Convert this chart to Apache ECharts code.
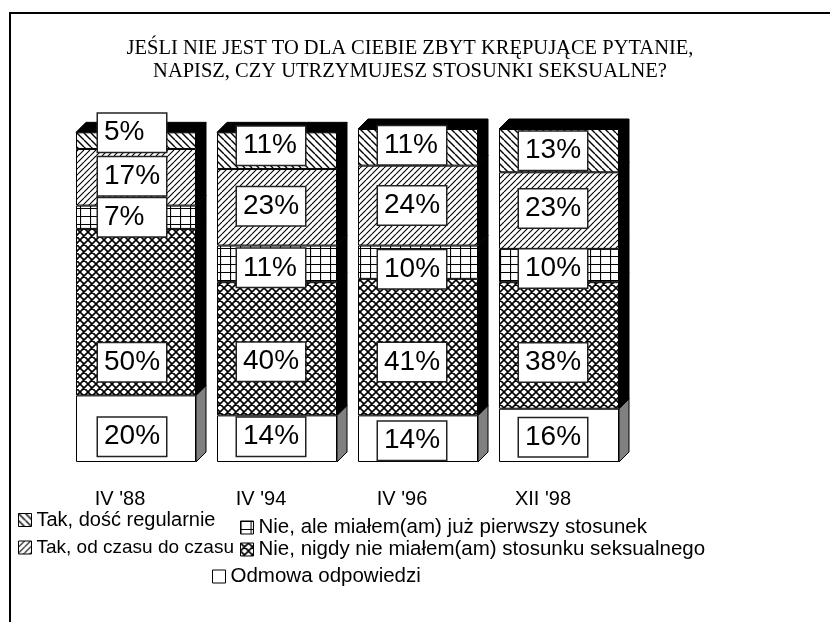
<!DOCTYPE html>
<html>
<head>
<meta charset="utf-8">
<script src="https://cdn.jsdelivr.net/npm/echarts@6/dist/echarts.min.js"></script>
<style>
  html, body { margin: 0; padding: 0; background: #fff; }
  #chart { width: 830px; height: 622px; }
</style>
</head>
<body>
<div id="chart"></div>
<script>
// dane z wykresu (od dołu słupka do góry)
var categories = ["IV '88", "IV '94", "IV '96", "XII '98"];
var odmowa = [20, 14, 14, 16];
var nigdy = [50, 40, 41, 38];
var aleJuz = [7, 11, 10, 10];
var odCzasu = [17, 23, 24, 23];
var regularnie = [5, 11, 11, 13];

var names = [
  'Odmowa odpowiedzi',
  'Nie, nigdy nie miałem(am) stosunku seksualnego',
  'Nie, ale miałem(am) już pierwszy stosunek',
  'Tak, od czasu do czasu',
  'Tak, dość regularnie'
];

var SANS = "'Liberation Sans', Arial, sans-serif";
var SERIF = "'Liberation Serif', 'Times New Roman', serif";

// wzory wypełnienia
function pattern(w, h, lw, draw) {
  var c = document.createElement('canvas');
  c.width = w; c.height = h;
  var ctx = c.getContext('2d');
  ctx.fillStyle = '#fff';
  ctx.fillRect(0, 0, w, h);
  ctx.strokeStyle = '#000';
  ctx.lineWidth = lw;
  ctx.beginPath();
  draw(ctx, w, h);
  ctx.stroke();
  return { image: c, repeat: 'repeat' };
}
function back(ctx, w, h) { // "\"
  for (var k = -w; k <= w; k += w) { ctx.moveTo(k, 0); ctx.lineTo(k + w, h); }
}
function fwd(ctx, w, h) { // "/"
  for (var k = -w; k <= w; k += w) { ctx.moveTo(k + w, 0); ctx.lineTo(k, h); }
}
var fills = [
  '#fff',
  pattern(8, 8, 1.6, function (ctx, w, h) { back(ctx, w, h); fwd(ctx, w, h); }),
  pattern(10, 8, 1.2, function (ctx, w, h) {
    ctx.moveTo(0.5, 0); ctx.lineTo(0.5, h);
    ctx.moveTo(0, 0.5); ctx.lineTo(w, 0.5);
  }),
  pattern(6, 6, 1.1, fwd),
  pattern(7, 7, 1.4, back)
];

// przesunięcia etykiet względem środka segmentu (jak w oryginale)
var labelDy = [
  [8, -2, 2, 2],
  [50, 13, 15, 17],
  [0, 4, 7, 3],
  [-1, -1, 0, -2],
  [-8, -5, -2, 0]
];

var stack = [odmowa, nigdy, aleJuz, odCzasu, regularnie];
var BAR = 120, DEPTH = 10;

var series = stack.map(function (vals, s) {
  return {
    name: names[s],
    type: 'bar',
    stack: 'all',
    barWidth: BAR,
    z: 3,
    itemStyle: { color: fills[s], borderColor: '#000', borderWidth: 1 },
    label: {
      show: true,
      position: 'inside',
      formatter: '{c}%',
      fontFamily: SANS,
      fontSize: 28,
      lineHeight: 32,
      color: '#000',
      backgroundColor: '#fff',
      borderColor: '#222',
      borderWidth: 1.5,
      padding: [3, 6],
      width: 56,
      align: 'left'
    },
    data: vals.map(function (v, i) {
      return { value: v, label: { offset: [i === 0 ? -38 : -40, labelDy[s][i]] } };
    })
  };
});

// efekt 3D: bok i góra słupka
series.push({
  type: 'custom',
  silent: true,
  z: 1,
  data: categories.map(function (c, i) { return [i]; }),
  renderItem: function (params, api) {
    var i = api.value(0);
    var bounds = [0], cum = 0;
    stack.forEach(function (vals) { cum += vals[i]; bounds.push(cum); });
    var cx = api.coord([i, 0])[0];
    var x0 = cx - BAR / 2, x1 = cx + BAR / 2, d = DEPTH;
    var children = [];
    for (var k = 0; k < stack.length; k++) {
      var ya = api.coord([i, bounds[k]])[1];
      var yb = api.coord([i, bounds[k + 1]])[1];
      children.push({
        type: 'polygon',
        shape: { points: [[x1, ya], [x1 + d, ya - d], [x1 + d, yb - d], [x1, yb]] },
        style: { fill: k === 0 ? '#808080' : '#000', stroke: '#000', lineWidth: 1 }
      });
    }
    var yt = api.coord([i, cum])[1];
    children.push({
      type: 'polygon',
      shape: { points: [[x0, yt], [x0 + d, yt - d], [x1 + d, yt - d], [x1, yt]] },
      style: { fill: '#000', stroke: '#000', lineWidth: 1 }
    });
    return { type: 'group', children: children };
  }
});

// legenda: każda pozycja osobno, jak w oryginale
var legendPos = [
  { name: names[4], left: 18, top: 510, size: 20 },
  { name: names[3], left: 18, top: 538, size: 19 },
  { name: names[2], left: 240, top: 517, size: 20.5 },
  { name: names[1], left: 240, top: 539, size: 20.5 },
  { name: names[0], left: 212, top: 566, size: 20.5 }
];
var legends = legendPos.map(function (p) {
  return {
    data: [p.name],
    left: p.left,
    top: p.top,
    padding: 0,
    icon: 'rect',
    itemWidth: 13,
    itemHeight: 13,
    selectedMode: false,
    itemStyle: { borderColor: '#000', borderWidth: 1 },
    textStyle: { fontFamily: SANS, fontSize: p.size, color: '#000' }
  };
});

var myChart = echarts.init(document.getElementById('chart'));
var option = {
  animation: false,
  backgroundColor: '#fff',
  title: {
    text: 'JEŚLI NIE JEST TO DLA CIEBIE ZBYT KRĘPUJĄCE PYTANIE,\nNAPISZ, CZY UTRZYMUJESZ STOSUNKI SEKSUALNE?',
    left: 410,
    top: 37,
    textAlign: 'center',
    padding: 0,
    textStyle: { fontFamily: SERIF, fontSize: 20.5, fontWeight: 'normal', color: '#000', lineHeight: 23 }
  },
  legend: legends,
  grid: { left: 65.5, right: 200.5, top: 129, bottom: 160 },
  xAxis: {
    type: 'category',
    data: categories,
    axisLine: { show: false },
    axisTick: { show: false },
    axisLabel: {
      fontFamily: SANS, fontSize: 20, color: '#000',
      margin: 27, padding: [0, 32, 0, 0]
    }
  },
  yAxis: {
    type: 'value',
    min: 0,
    max: 100,
    show: false,
    splitLine: { show: false }
  },
  graphic: [{
    type: 'polyline',
    silent: true,
    shape: { points: [[10, 622], [10, 13], [830, 13]] },
    style: { stroke: '#000', lineWidth: 2, fill: null }
  }],
  series: series
};
myChart.setOption(option);
</script>
</body>
</html>
